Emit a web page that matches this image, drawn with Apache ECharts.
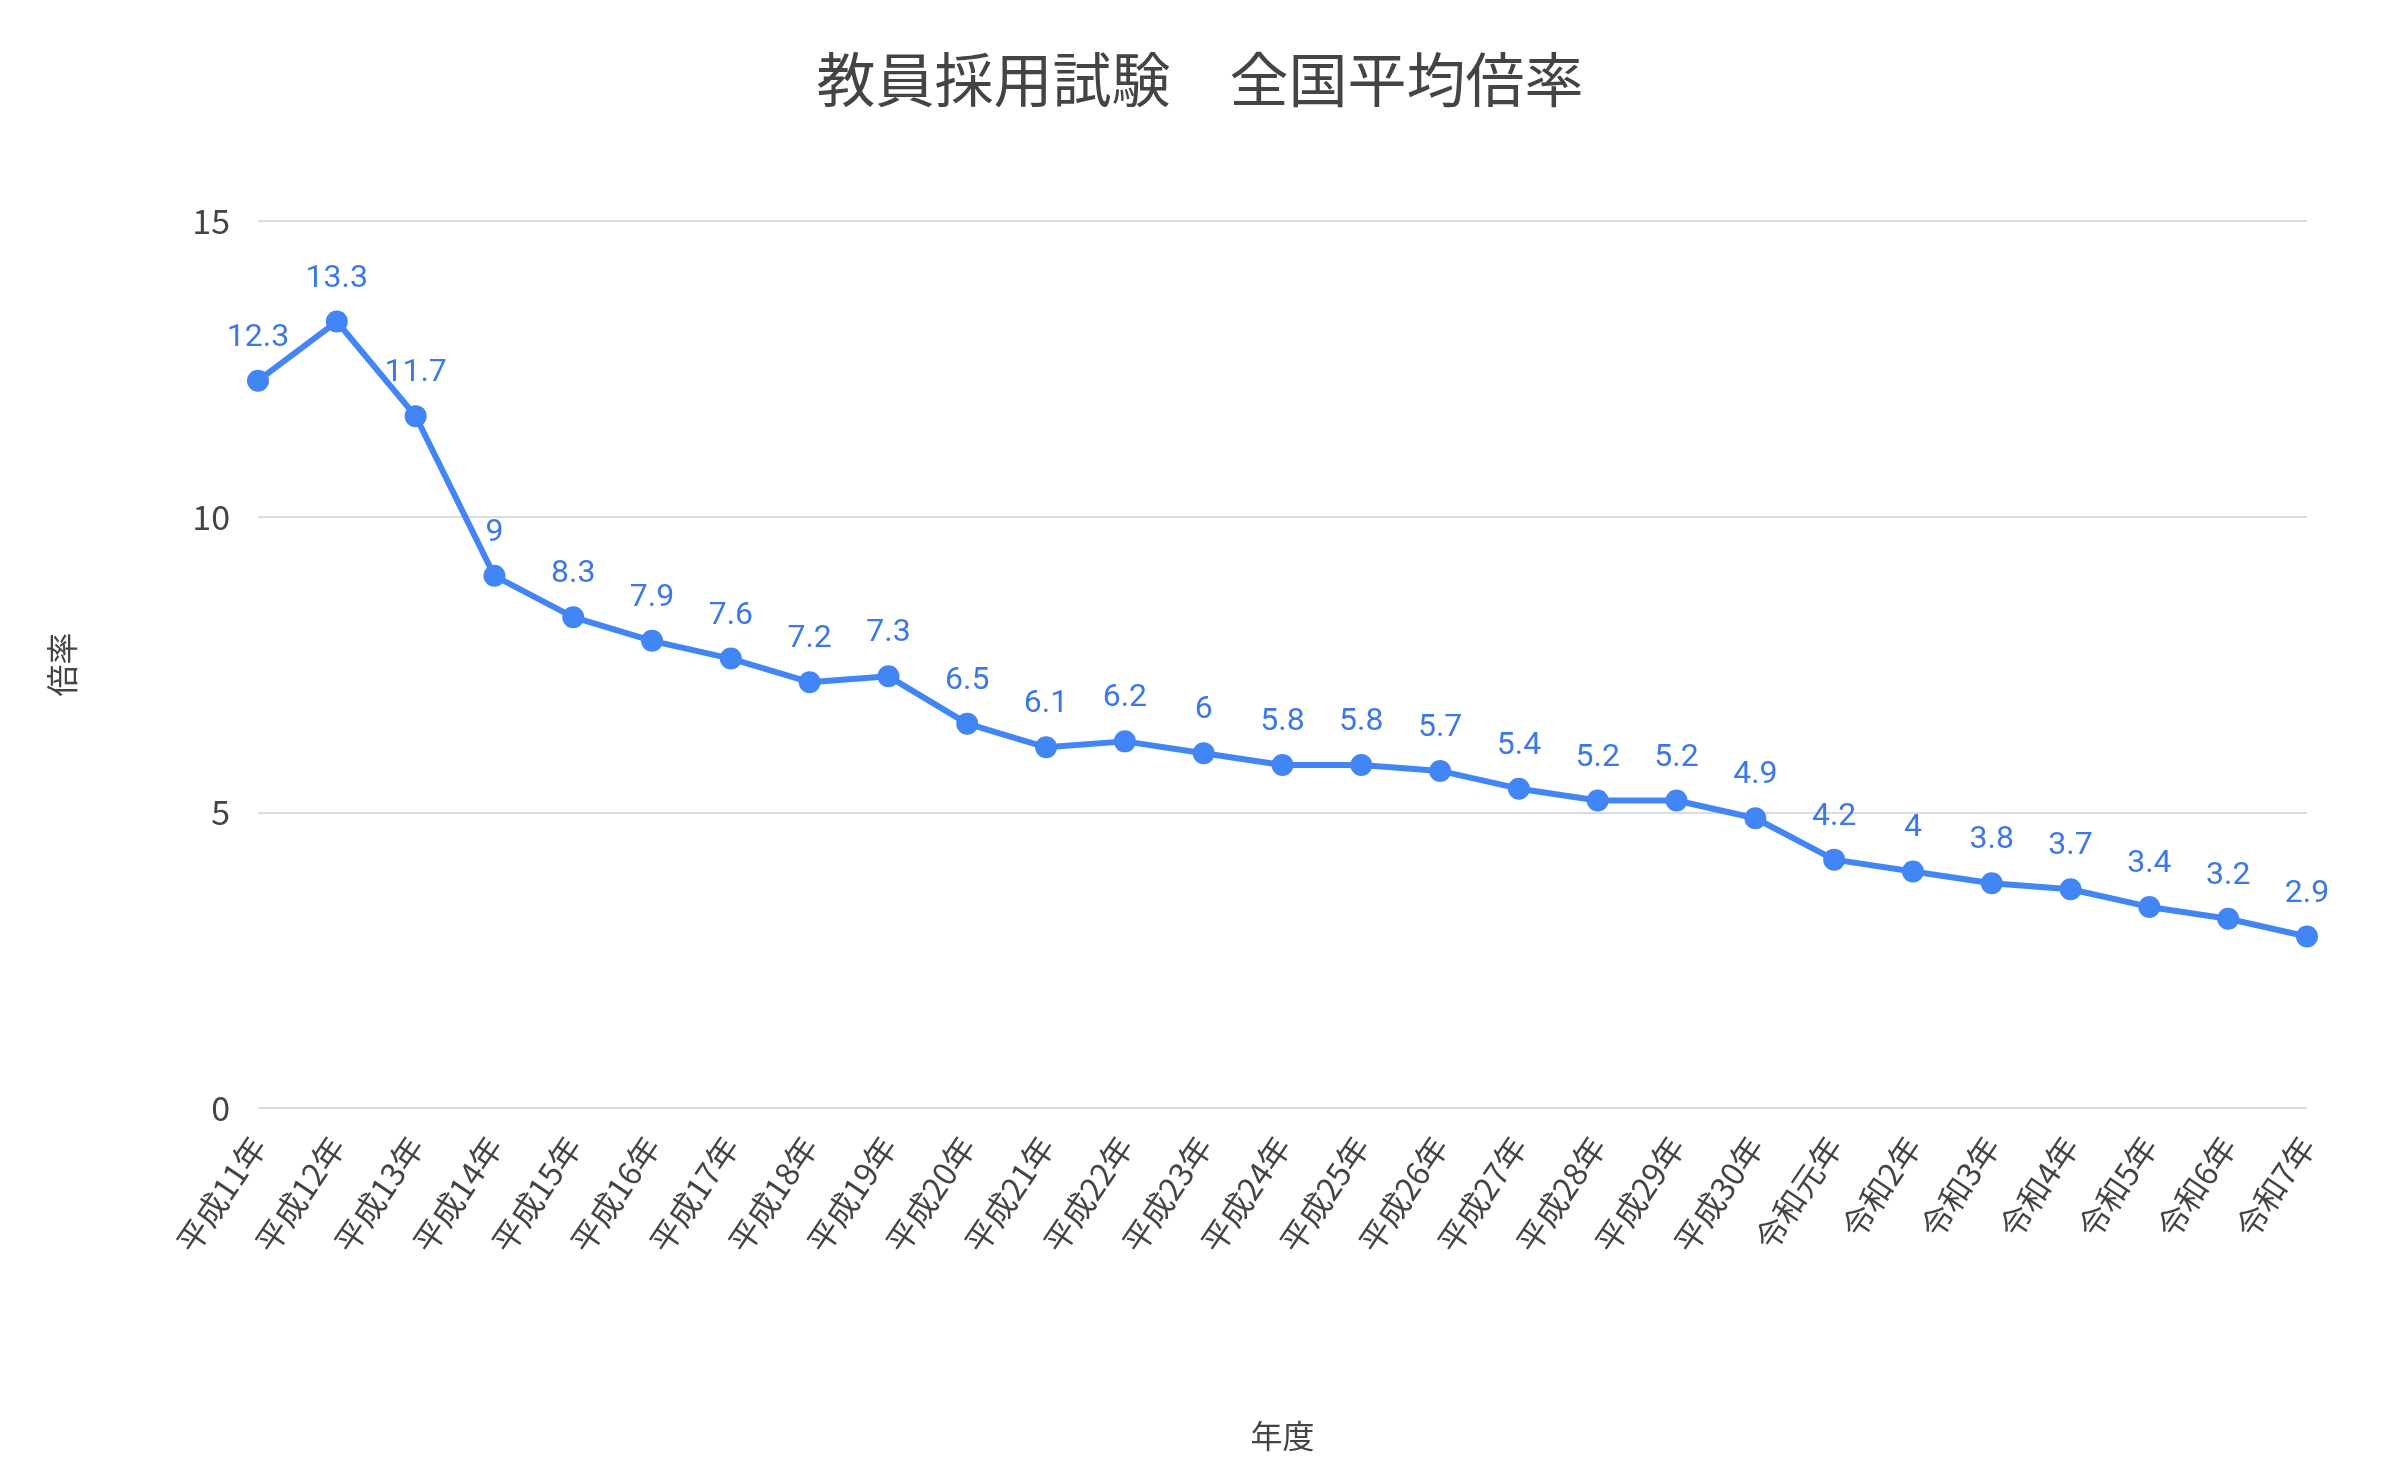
<!DOCTYPE html>
<html>
<head>
<meta charset="utf-8">
<script src="https://cdn.jsdelivr.net/npm/echarts@6/dist/echarts.min.js"></script>
<style>
  html, body { margin: 0; padding: 0; background: #fff; }
  #main { width: 2400px; height: 1477px; }
</style>
</head>
<body>
<div id="main"></div>
<script>
const years = [
  '平成11年', '平成12年', '平成13年', '平成14年', '平成15年', '平成16年', '平成17年',
  '平成18年', '平成19年', '平成20年', '平成21年', '平成22年', '平成23年', '平成24年',
  '平成25年', '平成26年', '平成27年', '平成28年', '平成29年', '平成30年', '令和元年',
  '令和2年', '令和3年', '令和4年', '令和5年', '令和6年', '令和7年'
];
const ratios = [
  12.3, 13.3, 11.7, 9, 8.3, 7.9, 7.6, 7.2, 7.3, 6.5, 6.1, 6.2, 6, 5.8,
  5.8, 5.7, 5.4, 5.2, 5.2, 4.9, 4.2, 4, 3.8, 3.7, 3.4, 3.2, 2.9
];

const jpFont = '"Noto Sans CJK JP", "Noto Sans", sans-serif';

const myChart = echarts.init(document.getElementById('main'));
const option = {
  backgroundColor: '#ffffff',
  title: {
    text: '教員採用試験\u3000全国平均倍率',
    left: 'center',
    top: 45,
    textStyle: {
      fontFamily: jpFont,
      fontSize: 59,
      fontWeight: 'normal',
      color: '#444444'
    }
  },
  grid: {
    left: 258,
    right: 93,
    top: 221,
    bottom: 369
  },
  xAxis: {
    type: 'category',
    data: years,
    boundaryGap: false,
    name: '年度',
    nameLocation: 'middle',
    nameGap: 312,
    nameTextStyle: {
      fontFamily: jpFont,
      fontSize: 32,
      color: '#444444'
    },
    axisLine: { show: false },
    axisTick: { show: false },
    axisLabel: {
      rotate: 56,
      margin: 32,
      interval: 0,
      fontFamily: jpFont,
      fontSize: 32,
      color: '#444444'
    }
  },
  yAxis: {
    type: 'value',
    min: 0,
    max: 15,
    interval: 5,
    name: '倍率',
    nameLocation: 'middle',
    nameGap: 180,
    nameRotate: 90,
    nameTextStyle: {
      fontFamily: jpFont,
      fontSize: 32,
      color: '#444444'
    },
    axisLabel: {
      margin: 28,
      fontFamily: jpFont,
      fontSize: 34,
      color: '#444444'
    },
    splitLine: {
      lineStyle: { color: '#dadce0', width: 2 }
    }
  },
  series: [
    {
      type: 'line',
      data: ratios,
      symbol: 'circle',
      symbolSize: 22,
      itemStyle: { color: '#4285f4' },
      lineStyle: { color: '#4285f4', width: 6 },
      label: {
        show: true,
        position: 'top',
        distance: 16,
        fontFamily: 'Roboto, sans-serif',
        fontSize: 32,
        color: '#3c78e8'
      }
    }
  ]
};
myChart.setOption(option);
</script>
</body>
</html>
